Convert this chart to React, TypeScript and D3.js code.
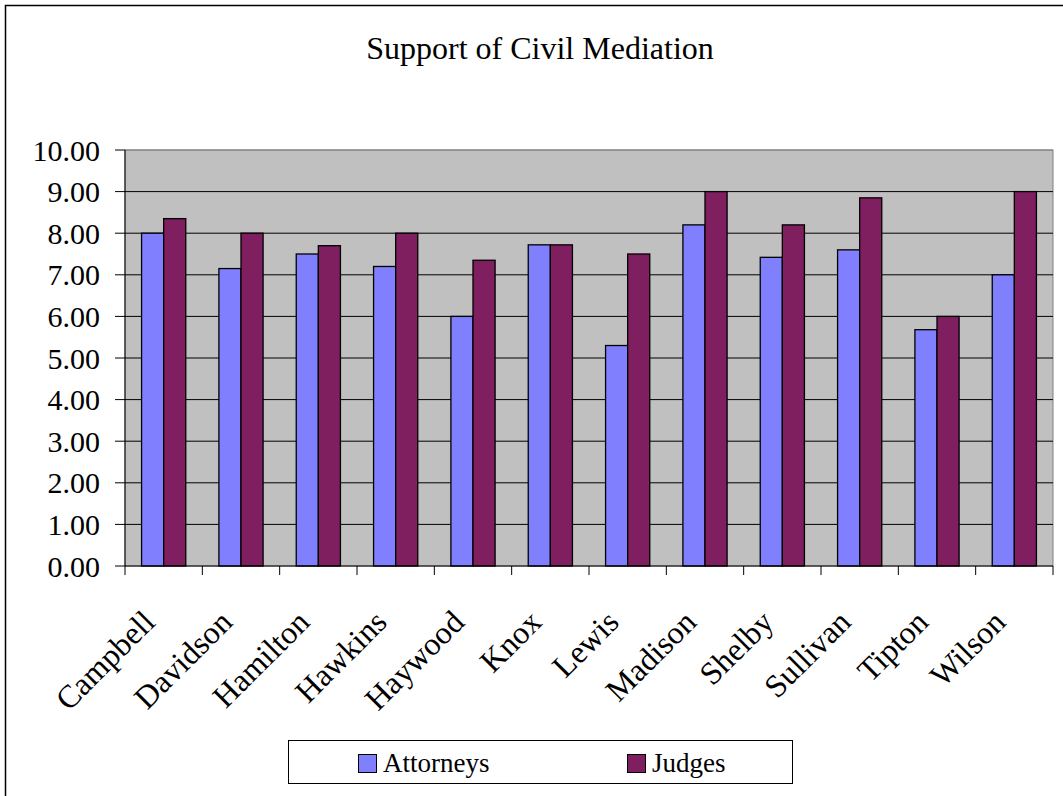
import React, { useEffect, useRef } from 'react';
import * as d3 from 'd3';

const counties = ['Campbell', 'Davidson', 'Hamilton', 'Hawkins', 'Haywood', 'Knox', 'Lewis', 'Madison', 'Shelby', 'Sullivan', 'Tipton', 'Wilson'];
const attorneys = [8.0, 7.15, 7.5, 7.2, 6.0, 7.72, 5.3, 8.2, 7.42, 7.6, 5.68, 7.0];
const judges = [8.35, 8.0, 7.7, 8.0, 7.35, 7.72, 7.5, 9.0, 8.2, 8.85, 6.0, 9.0];
const seriesNames = ['Attorneys', 'Judges'];
const seriesColors = ['#8080FF', '#7F1F5F'];
const yTicks = [0, 1, 2, 3, 4, 5, 6, 7, 8, 9, 10];

const App: React.FC = () => {
  const ref = useRef<SVGSVGElement>(null);

  useEffect(() => {
    const width = 1063;
    const height = 796;
    const font = 'Liberation Serif';
    const left = 125, right = 1053, top = 150, bottom = 566;

    const svg = d3.select(ref.current);
    svg.selectAll('*').remove();
    svg.attr('width', width).attr('height', height).attr('font-family', font);

    // outer chart border
    svg.append('rect')
      .attr('x', 5.5).attr('y', 5.5)
      .attr('width', width + 10).attr('height', height + 10)
      .attr('fill', '#fff').attr('stroke', '#000').attr('stroke-width', 1.5);

    svg.append('text')
      .attr('x', 540).attr('y', 59)
      .attr('text-anchor', 'middle')
      .attr('font-size', 32)
      .text('Support of Civil Mediation');

    const x = d3.scaleBand().domain(counties).range([left, right]);
    const barW = x.bandwidth() / 3.5;
    const y = d3.scaleLinear().domain([0, 10]).range([bottom, top]);

    svg.append('rect')
      .attr('x', left).attr('y', top)
      .attr('width', right - left).attr('height', bottom - top)
      .attr('fill', '#C0C0C0').attr('stroke', '#808080');

    svg.append('g').selectAll('line')
      .data(yTicks.slice(1))
      .join('line')
      .attr('x1', left).attr('x2', right)
      .attr('y1', d => y(d)).attr('y2', d => y(d))
      .attr('stroke', d => d === 10 ? '#808080' : '#000')
      .attr('stroke-width', 1);

    const data = counties.map((c, i) => ({ c, vals: [attorneys[i], judges[i]] }));
    const groups = svg.append('g').selectAll('g')
      .data(data)
      .join('g')
      .attr('transform', d => `translate(${x(d.c)! + barW * 0.75},0)`);
    groups.selectAll('rect')
      .data(d => d.vals)
      .join('rect')
      .attr('x', (_, j) => j * barW)
      .attr('y', d => y(d))
      .attr('width', barW)
      .attr('height', d => bottom - y(d))
      .attr('fill', (_, j) => seriesColors[j])
      .attr('stroke', '#000')
      .attr('stroke-width', 1.3);

    // y axis
    const ya = svg.append('g');
    ya.append('line').attr('x1', left).attr('x2', left).attr('y1', top).attr('y2', bottom).attr('stroke', '#000');
    ya.selectAll('line.t').data(yTicks).join('line').attr('class', 't')
      .attr('x1', left - 10).attr('x2', left).attr('y1', d => y(d)).attr('y2', d => y(d)).attr('stroke', '#000');
    ya.selectAll('text').data(yTicks).join('text')
      .attr('x', 100).attr('y', d => y(d)).attr('dy', '0.35em')
      .attr('text-anchor', 'end')
      .attr('font-size', 30)
      .text(d => d3.format('.2f')(d));

    // x axis
    const xa = svg.append('g');
    xa.append('line').attr('x1', left).attr('x2', right).attr('y1', bottom).attr('y2', bottom).attr('stroke', '#000');
    const bounds = counties.map(c => x(c)!).concat([right]);
    xa.selectAll('line.t').data(bounds).join('line').attr('class', 't')
      .attr('x1', d => d).attr('x2', d => d).attr('y1', bottom).attr('y2', bottom + 9).attr('stroke', '#000');
    xa.selectAll('text').data(counties).join('text')
      .attr('transform', d => `translate(${x(d)! + x.bandwidth() / 2 - 7},${bottom + 58}) rotate(-45)`)
      .attr('text-anchor', 'end')
      .attr('font-size', 32)
      .text(d => d);

    // legend
    const lg = svg.append('g');
    lg.append('rect').attr('x', 288.5).attr('y', 740.5).attr('width', 504).attr('height', 43)
      .attr('fill', '#fff').attr('stroke', '#000');
    const lx = [358, 627];
    seriesNames.forEach((n, i) => {
      lg.append('rect').attr('x', lx[i] + 0.5).attr('y', 754.5).attr('width', 18).attr('height', 18)
        .attr('fill', seriesColors[i]).attr('stroke', '#000');
      lg.append('text').attr('x', lx[i] + 25).attr('y', 772)
        .attr('font-size', 27)
        .text(n);
    });
  }, []);

  return (
    <div style={{ position: 'absolute', left: 0, top: 0 }}>
      <svg ref={ref} style={{ display: 'block' }} />
    </div>
  );
};

export default App;
